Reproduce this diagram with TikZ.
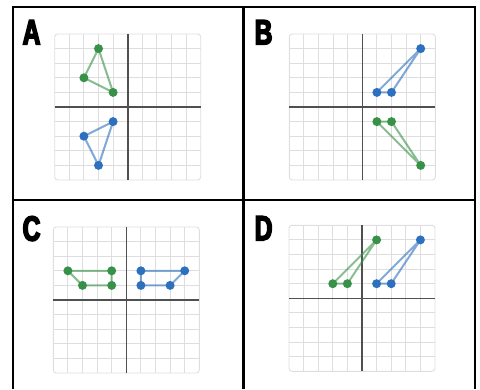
\documentclass[tikz,border=0pt]{standalone}
\usepackage{fontspec}
\setmainfont{Liberation Sans}
\newfontfamily\letterfont{Liberation Sans}[FakeStretch=0.7, FakeBold=4.5]
\definecolor{gridgray}{RGB}{222,222,222}
\definecolor{axisgray}{RGB}{80,80,80}
\definecolor{dgreen}{RGB}{56,145,72}
\definecolor{dblue}{RGB}{45,112,190}
\tikzset{
  panelline/.style={black, line width=2.6pt},
  gridline/.style={gridgray, line width=0.9pt},
  axisline/.style={axisgray, line width=1.6pt},
  greenshape/.style={dgreen, opacity=0.6, line width=2pt, line join=round},
  blueshape/.style={dblue, opacity=0.6, line width=2pt, line join=round},
  letter/.style={font=\letterfont\bfseries\fontsize{35}{35}\selectfont, inner sep=0pt, anchor=north west}
}
\begin{document}
\begin{tikzpicture}[x=1pt, y=-1pt]
    \useasboundingbox (0,0) rectangle (480,389);
    % ramki paneli
    \draw[panelline] (13,389) -- (13,7) -- (475,7) -- (475,389);
    \draw[panelline] (243.5,7) -- (243.5,389);
    \draw[panelline] (13,200) -- (475,200);
    % litery
    \node[letter] (labA) at (22.5,20) {A};
    \node[letter] (labB) at (254.5,20) {B};
    \node[letter] (labC) at (22.5,216) {C};
    \node[letter] (labD) at (254.5,216) {D};
    % siatki z osiami (10 x 10 kratek)
    \foreach \cx/\cy in {127.7/107, 362.3/107, 126.3/300, 362/298.3} {
        \begin{scope}[shift={(\cx,\cy)}, x=14.6pt, y=14.6pt]
            \foreach \i in {-4,...,4} {
                \draw[gridline] (\i,-5) -- (\i,5);
                \draw[gridline] (-5,\i) -- (5,\i);
            }
            \draw[gridline, rounded corners=3pt] (-5,-5) rectangle (5,5);
            \draw[axisline] (-5,0) -- (5,0);
            \draw[axisline] (0,-5) -- (0,5);
        \end{scope}
    }
    % A: odbicie wzgledem osi x
    \begin{scope}[shift={(127.7,107)}, x=14.6pt, y=14.6pt]
        \coordinate (ag1) at (-2,4);
        \coordinate (ag2) at (-3,2);
        \coordinate (ag3) at (-1,1);
        \coordinate (ab1) at (-1,-1);
        \coordinate (ab2) at (-3,-2);
        \coordinate (ab3) at (-2,-4);
        \draw[greenshape] (ag1) -- (ag2) -- (ag3) -- cycle;
        \draw[blueshape] (ab1) -- (ab2) -- (ab3) -- cycle;
        \foreach \p in {ag1,ag2,ag3} \fill[dgreen] (\p) circle (4.5pt);
        \foreach \p in {ab1,ab2,ab3} \fill[dblue] (\p) circle (4.5pt);
    \end{scope}
    % B: odbicie wzgledem osi x
    \begin{scope}[shift={(362.3,107)}, x=14.6pt, y=14.6pt]
        \coordinate (bb1) at (4,4);
        \coordinate (bb2) at (1,1);
        \coordinate (bb3) at (2,1);
        \coordinate (bg1) at (4,-4);
        \coordinate (bg2) at (1,-1);
        \coordinate (bg3) at (2,-1);
        \draw[blueshape] (bb1) -- (bb2) -- (bb3) -- cycle;
        \draw[greenshape] (bg1) -- (bg2) -- (bg3) -- cycle;
        \foreach \p in {bb1,bb2,bb3} \fill[dblue] (\p) circle (4.5pt);
        \foreach \p in {bg1,bg2,bg3} \fill[dgreen] (\p) circle (4.5pt);
    \end{scope}
    % C: odbicie wzgledem osi y
    \begin{scope}[shift={(126.3,300)}, x=14.6pt, y=14.6pt]
        \coordinate (cg1) at (-4,2);
        \coordinate (cg2) at (-1,2);
        \coordinate (cg3) at (-1,1);
        \coordinate (cg4) at (-3,1);
        \coordinate (cb1) at (1,2);
        \coordinate (cb2) at (4,2);
        \coordinate (cb3) at (3,1);
        \coordinate (cb4) at (1,1);
        \draw[greenshape] (cg1) -- (cg2) -- (cg3) -- (cg4) -- cycle;
        \draw[blueshape] (cb1) -- (cb2) -- (cb3) -- (cb4) -- cycle;
        \foreach \p in {cg1,cg2,cg3,cg4} \fill[dgreen] (\p) circle (4.5pt);
        \foreach \p in {cb1,cb2,cb3,cb4} \fill[dblue] (\p) circle (4.5pt);
    \end{scope}
    % D: przesuniecie
    \begin{scope}[shift={(362,298.3)}, x=14.6pt, y=14.6pt]
        \coordinate (dg1) at (1,4);
        \coordinate (dg2) at (-2,1);
        \coordinate (dg3) at (-1,1);
        \coordinate (db1) at (4,4);
        \coordinate (db2) at (1,1);
        \coordinate (db3) at (2,1);
        \draw[greenshape] (dg1) -- (dg2) -- (dg3) -- cycle;
        \draw[blueshape] (db1) -- (db2) -- (db3) -- cycle;
        \foreach \p in {dg1,dg2,dg3} \fill[dgreen] (\p) circle (4.5pt);
        \foreach \p in {db1,db2,db3} \fill[dblue] (\p) circle (4.5pt);
    \end{scope}
\end{tikzpicture}
\end{document}
